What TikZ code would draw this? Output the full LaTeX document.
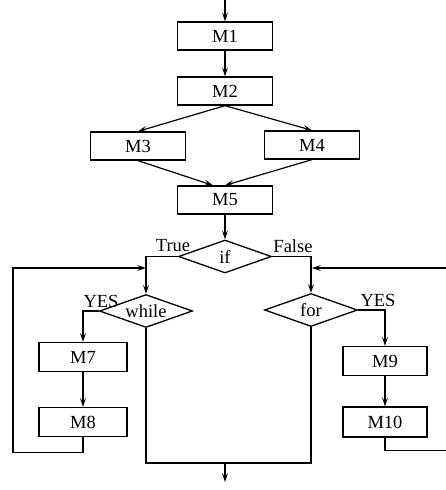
\documentclass[tikz,border=0pt]{standalone}
\usepackage{fontspec}
\setmainfont{Liberation Serif}
\usetikzlibrary{positioning,arrows.meta,shapes.geometric}

\tikzset{
  box/.style={draw, line width=1.3pt, minimum width=95pt, minimum height=28pt, inner sep=0pt},
  smallbox/.style={box, minimum width=88pt, minimum height=29pt},
  decision/.style={draw, diamond, line width=1.3pt, inner sep=0pt, shape aspect=2.8,
    minimum width=93pt, minimum height=33pt},
  lbl/.style={inner sep=0pt},
  arr/.style={line width=1.2pt, -{Stealth[length=9pt, width=6pt, inset=4pt]}},
  line/.style={line width=1.2pt}
}

\begin{document}
\begin{tikzpicture}[x=1pt, y=-1pt, font=\fontsize{18.5}{20}\selectfont]
  \useasboundingbox (0,0) rectangle (446,490);

  % entry
  \coordinate (start) at (225,-2);

  % boxes
  \node[box] (m1) at (225,36) {M1};
  \node[box] (m2) at (225,91) {M2};
  \node[box] (m3) at (138,146) {M3};
  \node[box] (m4) at (312,145) {M4};
  \node[box] (m5) at (225,200) {M5};

  % decisions
  \node[decision] (if) at (225,256.5) {if};
  \node[decision] (while) at (146,311) {while};
  \node[decision] (for) at (311,310) {for};

  % loop bodies
  \node[smallbox] (m7) at (83,357) {M7};
  \node[smallbox] (m8) at (83,422) {M8};
  \node[smallbox, minimum width=84pt] (m9) at (385,361) {M9};
  \node[smallbox, minimum width=84pt, minimum height=30pt] (m10) at (385,422) {M10};

  % labels
  \node[lbl] (ltrue) at (173,246) {True};
  \node[lbl] (lfalse) at (293,246) {False};
  \node[lbl] (lyesw) at (101,301) {YES};
  \node[lbl] (lyesf) at (378,300) {YES};

  % helper points
  \coordinate (lin) at (146,268);
  \coordinate (rin) at (312,268);
  \coordinate (join) at (225,463);
  \coordinate (exit) at (225,482);

  % straight flow
  \draw[arr] (start) -- (m1);
  \draw[arr] (m1) -- (m2);
  \draw[arr] (m2.south) -- (m3.north);
  \draw[arr] (m2.south) -- (m4.north);
  \draw[arr] (m3.south) -- ([xshift=-12pt]m5.north);
  \draw[arr] (m4.south) -- (m5.north);
  \draw[arr] (m5) -- (if);

  % branches
  \draw[arr] (if.west) -| (while.north);
  \draw[arr] (if.east) -| (for.north);
  \draw[arr] (while.west) -| (m7.north);
  \draw[arr] (m7) -- (m8);
  \draw[arr] (for.east) -| (m9.north);
  \draw[arr] (m9) -- (m10);

  % loops back
  \draw[arr] (m8.south) -- ++(0,15) -| (13,268) -- (lin);
  \draw[arr] (m10.south) -- ++(0,13) -| (448,268) -- (rin);

  % exits
  \draw[line] (while.south) |- (join) -| (for.south);
  \draw[arr] (join) -- (exit);
\end{tikzpicture}
\end{document}
